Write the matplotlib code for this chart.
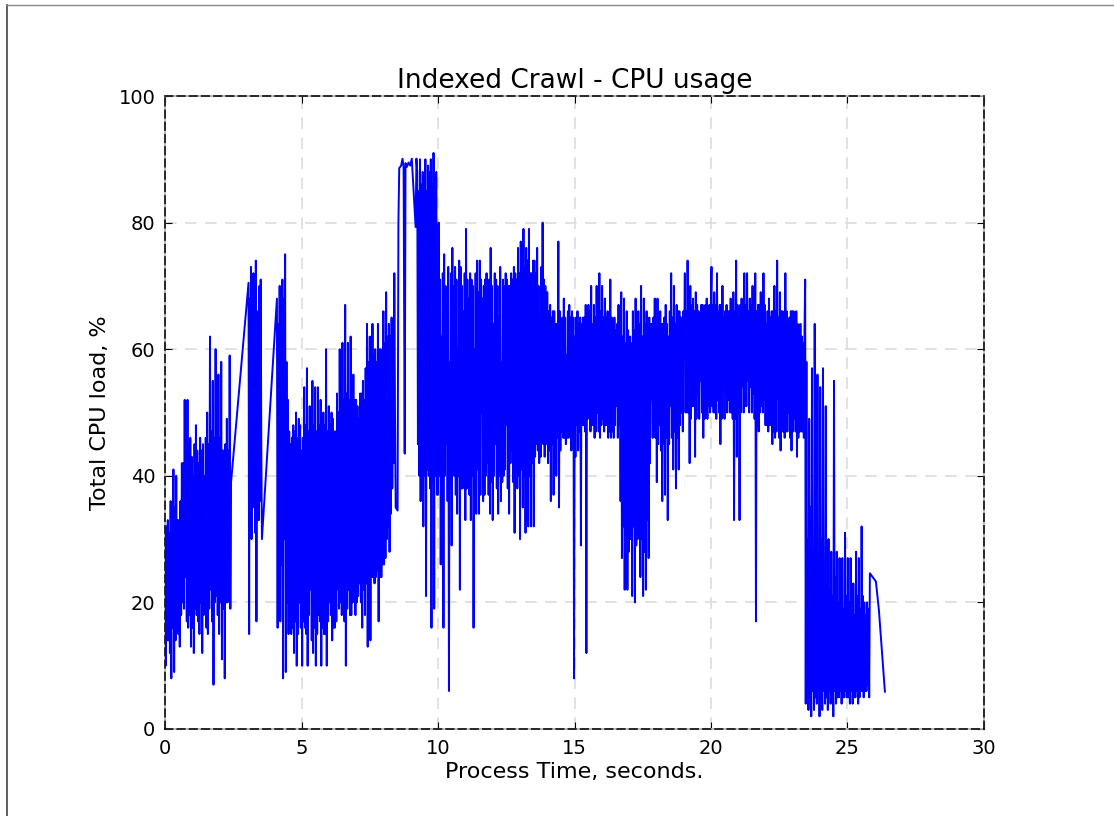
import matplotlib
matplotlib.use("Agg")
import matplotlib.pyplot as plt
from matplotlib.lines import Line2D
from matplotlib.patches import Rectangle
import numpy as np

# ---------------- data ----------------
# Each dense block: (start time, end time) and the sampled CPU values in between.
seg1_span = (0.00, 2.42)
seg1_cpu = [28, 10, 32, 14, 33, 14, 31, 12, 36, 8, 34, 16, 41, 9, 35, 14, 40, 16, 33, 15,
            33, 13, 36, 18, 42, 20, 42, 19, 52, 24, 44, 17, 52, 16, 45, 18, 46, 13, 43, 16,
            40, 12, 45, 19, 48, 18, 44, 17, 42, 15, 46, 20, 44, 12, 45, 18, 40, 21, 46, 16,
            50, 15, 45, 19, 62, 22, 47, 17, 55, 7, 46, 20, 60, 21, 47, 18, 56, 15, 46, 20,
            58, 11, 44, 19, 44, 8, 45, 20, 49, 20, 44, 21, 59, 19, 39]

seg2_span = (3.06, 3.55)
seg2_cpu = [70.5, 15, 68, 32, 73, 30, 70, 35, 72, 40, 69, 31, 74, 17, 66, 33, 62, 33, 70, 36,
            71, 45, 30]

seg3_span = (4.10, 8.45)
seg3_cpu = [68, 16, 64, 28, 70, 17, 66, 26, 71, 8, 68, 30, 75, 9, 58, 20, 52, 15, 47, 17,
            45, 15, 46, 16, 48, 12, 47, 17, 50, 10, 46, 15, 49, 20, 48, 16, 44, 10, 46, 17,
            54, 16, 48, 15, 57, 10, 47, 18, 51, 22, 46, 14, 55, 12, 48, 16, 54, 10, 47, 15,
            54, 18, 48, 17, 52, 10, 46, 16, 50, 15, 48, 15, 60, 10, 47, 17, 51, 20, 48, 18,
            50, 14, 49, 16, 47, 16, 47, 17, 53, 22, 50, 19, 60, 20, 51, 18, 61, 25, 52, 17,
            67, 10, 53, 19, 61, 22, 52, 18, 62, 18, 53, 20, 56, 24, 52, 18, 52, 20, 51, 21,
            49, 23, 53, 20, 53, 16, 55, 22, 52, 18, 57, 23, 64, 13, 58, 22, 62, 14, 57, 24,
            64, 24, 59, 23, 60, 24, 58, 25, 64, 17, 60, 24, 60, 24, 59, 26, 66, 26, 61, 27,
            69, 30, 62, 32, 64, 28, 62, 34, 65, 38, 63, 42, 72, 50, 35]

# plateau around 9 s (irregular sampling)
seg4_time = [8.52, 8.55, 8.58, 8.65, 8.70, 8.74, 8.78, 8.81, 8.86, 8.92, 8.98, 9.04, 9.18, 9.21]
seg4_cpu = [34.5, 80, 88.6, 89, 90.1, 88.8, 43.5, 89.4, 88.8, 89.5, 89, 90.1, 79.3, 90.1]

seg5_span = (9.24, 9.96)
seg5_cpu = [88, 45, 85, 40, 90, 36, 86, 42, 88, 32, 87, 40, 90, 21, 85, 41, 89, 40, 88, 38,
            90, 16, 86, 39, 91, 19, 87, 40, 88, 37]

seg6_span = (10.00, 23.45)
seg6_cpu = [
    # 10-11 s
    37, 80, 40, 71, 26, 62, 38, 72, 16, 75, 40, 70, 45, 69, 36, 73, 6, 58, 39, 72,
    29, 76, 41, 70, 40, 73, 37, 71, 34, 60, 40, 74, 22, 73, 38, 70, 38, 66, 40, 72,
    # 11-12 s
    33, 79, 38, 71, 45, 68, 37, 72, 33, 71, 40, 70, 16, 60, 38, 72, 34, 74, 41, 69,
    34, 74, 37, 71, 50, 68, 36, 70, 37, 71, 40, 72, 42, 69, 37, 71, 34, 76, 39, 70,
    # 12-13 s
    33, 64, 40, 72, 45, 71, 38, 70, 34, 65, 40, 73, 36, 58, 39, 71, 40, 70, 41, 72,
    48, 71, 38, 70, 34, 70, 42, 72, 44, 71, 39, 73, 31, 72, 41, 71, 38, 76, 40, 72,
    # 13-14 s
    30, 77, 41, 72, 35, 79, 40, 73, 31, 76, 42, 74, 32, 79, 40, 72, 32, 72, 42, 74,
    32, 74, 43, 72, 45, 76, 44, 70, 42, 65, 43, 73, 47, 80, 45, 71, 43, 70, 45, 69,
    # 14-15 s
    69, 42, 66, 44, 67, 36, 65, 45, 66, 37, 66, 44, 64, 40, 64, 46, 77, 35, 66, 44,
    62, 47, 65, 46, 68, 46, 65, 45, 59, 46, 66, 46, 67, 47, 65, 44, 66, 48, 65, 8,
    # 15-16 s
    62, 43, 65, 48, 66, 44, 64, 47, 65, 29, 64, 48, 65, 48, 65, 47, 67, 12, 64, 49,
    67, 50, 66, 47, 70, 48, 64, 48, 67, 46, 65, 47, 70, 50, 64, 47, 72, 46, 66, 48,
    # 16-17 s
    70, 49, 65, 47, 68, 48, 65, 48, 66, 46, 64, 47, 71, 46, 65, 47, 60, 46, 65, 48,
    63, 51, 64, 46, 67, 48, 64, 36, 69, 27, 62, 32, 68, 22, 61, 30, 66, 22, 63, 28,
    # 17-18 s
    47, 62, 30, 61, 21, 66, 32, 63, 20, 68, 29, 62, 30, 66, 31, 64, 24, 70, 30, 62,
    21, 68, 28, 64, 22, 66, 33, 62, 27, 65, 42, 64, 52, 64, 46, 65, 50, 68, 46, 64,
    # 18-19 s
    39, 68, 45, 65, 48, 66, 44, 64, 36, 64, 45, 65, 37, 67, 46, 64, 33, 62, 45, 66,
    51, 72, 46, 65, 41, 70, 47, 64, 38, 67, 46, 66, 41, 66, 48, 65, 50, 65, 47, 66,
    # 19-20 s
    60, 72, 50, 66, 50, 74, 50, 66, 42, 70, 49, 67, 51, 68, 51, 66, 43, 69, 49, 67,
    53, 66, 49, 65, 55, 67, 50, 67, 46, 66, 49, 67, 54, 68, 49, 66, 51, 67, 50, 67,
    # 20-21 s
    73, 51, 67, 50, 69, 50, 67, 49, 72, 52, 66, 50, 67, 45, 67, 49, 70, 54, 65, 49,
    66, 53, 67, 50, 66, 52, 66, 50, 68, 50, 67, 49, 69, 33, 66, 49, 74, 43, 67, 50,
    # 21-22 s
    65, 33, 67, 50, 68, 54, 66, 50, 72, 51, 67, 51, 72, 55, 66, 50, 68, 54, 67, 50,
    70, 53, 65, 49, 72, 17, 66, 48, 67, 47, 67, 50, 69, 51, 66, 50, 72, 52, 67, 48,
    # 22-23 s
    64, 48, 66, 47, 68, 48, 65, 48, 66, 45, 66, 47, 70, 46, 66, 47, 74, 52, 65, 46,
    69, 44, 66, 47, 66, 47, 65, 46, 72, 47, 66, 47, 64, 50, 65, 46, 66, 44, 66, 47,
    # 23-23.45 s
    66, 49, 65, 47, 66, 43, 64, 46, 62, 47, 64, 47, 62, 47, 61, 46, 63, 71]

seg7_span = (23.47, 25.82)
seg7_cpu = [4, 58, 6, 30, 3, 49, 5, 35, 2, 57, 6, 28, 3, 64, 5, 32, 4, 56, 6, 26,
            2, 54, 5, 30, 3, 57, 6, 24, 4, 51, 5, 26, 3, 30, 6, 22, 4, 28, 5, 21,
            2, 55, 6, 24, 4, 28, 5, 20, 5, 27, 6, 22, 4, 27, 5, 19, 5, 31, 6, 21,
            5, 27, 5, 20, 4, 27, 6, 22, 4, 23, 5, 18, 5, 28, 6, 21, 4, 27, 5, 19,
            6, 32, 6, 21, 5, 20, 6, 18, 6, 20, 7, 19, 5, 24.6]

tail_time = [26.04, 26.15, 26.37]
tail_cpu = [23.3, 18.8, 5.9]

x_ticks = [0, 5, 10, 15, 20, 25, 30]
y_ticks = [0, 20, 40, 60, 80, 100]

# ---------------- assemble series ----------------
def block(span, vals):
    return np.linspace(span[0], span[1], len(vals)), np.asarray(vals, float)

parts = [block(seg1_span, seg1_cpu), block(seg2_span, seg2_cpu), block(seg3_span, seg3_cpu),
         (np.asarray(seg4_time), np.asarray(seg4_cpu, float)),
         block(seg5_span, seg5_cpu), block(seg6_span, seg6_cpu), block(seg7_span, seg7_cpu),
         (np.asarray(tail_time), np.asarray(tail_cpu, float))]
t = np.concatenate([p[0] for p in parts])
cpu = np.concatenate([p[1] for p in parts])

# ---------------- figure ----------------
plt.rcParams['font.family'] = ['DejaVu Sans']
fig = plt.figure(figsize=(11.14, 8.16), dpi=100)
ax = fig.add_axes([165 / 1114, 87 / 816, (984 - 165) / 1114, (729 - 96) / 816])

ax.plot(t, cpu, color='#0000ff', lw=1.4, zorder=3)

ax.set_xlim(0, 30)
ax.set_ylim(0, 100)
ax.set_xticks(x_ticks)
ax.set_yticks(y_ticks)
ax.tick_params(direction='in', length=5, width=0.8, top=True, right=True,
               labelsize=14, pad=7, color='black')

ax.grid(True, color='#dcdcdc', linestyle=(0, (7, 5)), linewidth=1.2, zorder=0)
ax.set_axisbelow(True)

# frame: light grey solid with black dashes on top
ax.add_patch(Rectangle((0, 0), 1, 1, transform=ax.transAxes, fill=False,
                       edgecolor='#b0b0b0', lw=1.2, zorder=2.4, clip_on=False))
for sp in ax.spines.values():
    sp.set_linestyle((0, (5, 3)))
    sp.set_color('black')
    sp.set_linewidth(1.1)

ax.set_title('Indexed Crawl - CPU usage', fontsize=19, pad=6)
ax.set_xlabel('Process Time, seconds.', fontsize=16, labelpad=3)
ax.set_ylabel('Total CPU load, %', fontsize=16, labelpad=6)

# screenshot border (left and top)
fig.add_artist(Line2D([7 / 1114, 7 / 1114], [0, 1 - 5 / 816], color='#444444', lw=1.2,
                      transform=fig.transFigure))
fig.add_artist(Line2D([7 / 1114, 1], [1 - 5 / 816, 1 - 5 / 816], color='#888888', lw=1.0,
                      transform=fig.transFigure))

fig.savefig('out.png', dpi=100)
